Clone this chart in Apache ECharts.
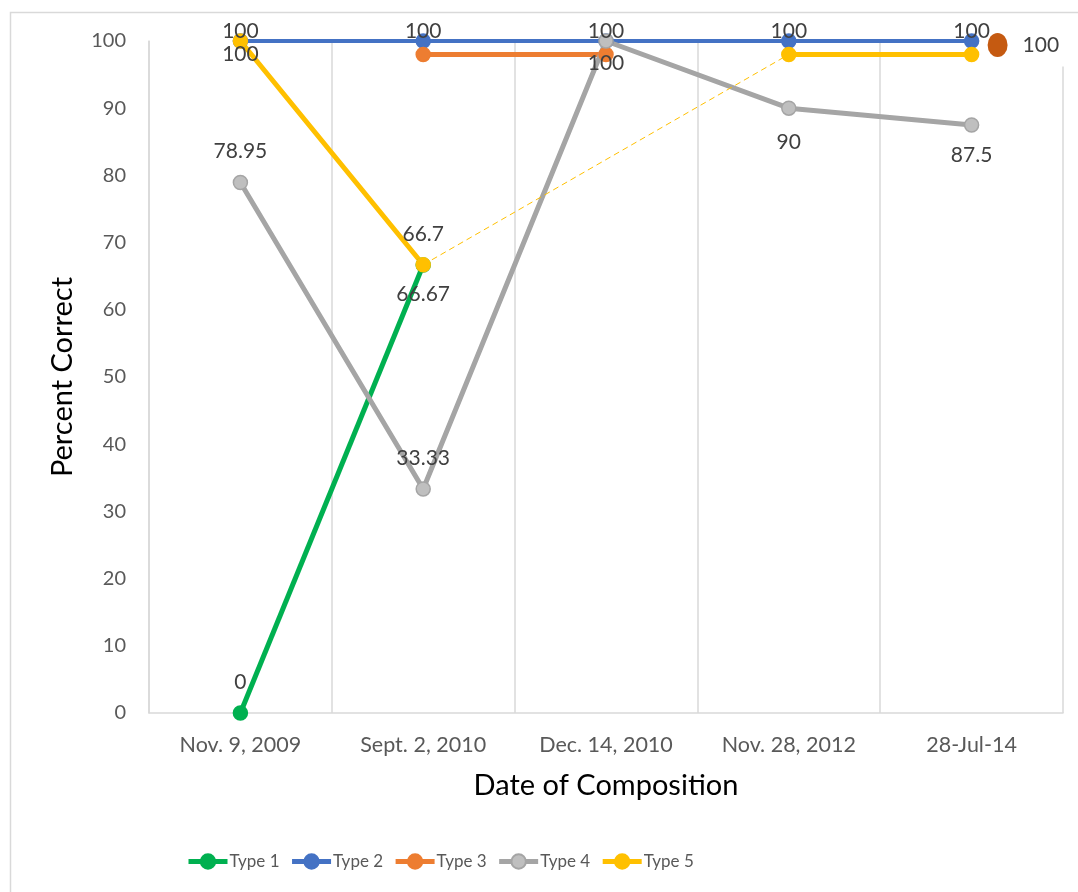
<!DOCTYPE html>
<html>
<head>
<meta charset="utf-8">
<script src="https://cdn.jsdelivr.net/npm/echarts@6/dist/echarts.min.js"></script>
<style>
  html, body { margin: 0; padding: 0; background: #fff; }
  #chart { width: 1078px; height: 892px; }
</style>
</head>
<body>
<div id="chart"></div>
<script>
// Categories and series values
const categories = ['Nov. 9, 2009', 'Sept. 2, 2010', 'Dec. 14, 2010', 'Nov. 28, 2012', '28-Jul-14'];
const type1 = [0, 66.67, null, null, null];
const type2 = [100, 100, 100, 100, 100];
const type3 = [null, 98, 98, null, null];
const type4 = [78.95, 33.33, 100, 90, 87.5];
const type5 = [100, 66.7, null, 98, 98];
const type3Extra = 100;           // lone point beside the last date
const yTicks = [0, 10, 20, 30, 40, 50, 60, 70, 80, 90, 100];

// Vertical label offsets (px, from the marker centre); null = no label
const labelDy = {
  t1: [-31, 29, null, null, null],
  t2: [-10, -10, -10, -10, -10],
  t3: [null, null, null, null, null],
  t4: [-31, -31, 22, 34, 30],
  t5: [13, -31, null, null, null]
};

const FONT = 'Lato';
const LABEL_COLOR = '#404040';

function buildData(values, dys) {
  return values.map((v, i) => ({
    value: v,
    label: {
      show: v != null && dys[i] != null,
      position: 'inside',
      offset: [0, dys[i] == null ? 0 : dys[i]]
    }
  }));
}

function lineSeries(name, values, dys, color, markerFill, width) {
  return {
    name: name,
    type: 'line',
    data: buildData(values, dys),
    connectNulls: false,
    symbol: 'circle',
    symbolSize: 14,
    showAllSymbol: true,
    lineStyle: { color: color, width: width },
    itemStyle: { color: markerFill, borderColor: color, borderWidth: 1.5 },
    label: {
      color: LABEL_COLOR,
      fontFamily: FONT,
      fontSize: 21,
      formatter: p => String(p.value)
    },
    emphasis: { disabled: true },
    animation: false
  };
}

const s1 = lineSeries('Type 1', type1, labelDy.t1, '#00B050', '#00B050', 5);
const s2 = lineSeries('Type 2', type2, labelDy.t2, '#4472C4', '#4472C4', 4);
const s3 = lineSeries('Type 3', type3, labelDy.t3, '#ED7D31', '#ED7D31', 5);
const s4 = lineSeries('Type 4', type4, labelDy.t4, '#A5A5A5', '#BFBFBF', 5);
const s5 = lineSeries('Type 5', type5, labelDy.t5, '#FFC000', '#FFC000', 5);

// Separate Type 3 point drawn as a dark orange ellipse with its value
s3.markPoint = {
  silent: true,
  animation: false,
  symbol: 'circle',
  symbolSize: [20, 24],
  symbolOffset: [26, 4],
  itemStyle: { color: '#C55A11' },
  label: {
    show: true,
    position: 'right',
    distance: 9,
    color: LABEL_COLOR,
    fontFamily: FONT,
    fontSize: 21,
    backgroundColor: '#fff',
    padding: [8, 14, 14, 6],
    formatter: String(type3Extra)
  },
  data: [{ coord: [categories[4], type3Extra], value: type3Extra }]
};

// Dashed bridge across the missing Type 5 value
s5.markLine = {
  silent: true,
  animation: false,
  symbol: 'none',
  label: { show: false },
  lineStyle: { color: '#FFC000', width: 1, type: [6, 4] },
  data: [[
    { coord: [categories[1], type5[1]] },
    { coord: [categories[3], type5[3]] }
  ]]
};

const chart = echarts.init(document.getElementById('chart'), null, { renderer: 'canvas' });

chart.setOption({
  backgroundColor: '#fff',
  animation: false,
  textStyle: { fontFamily: FONT },
  graphic: [{
    type: 'rect',
    silent: true,
    z: -10,
    shape: { x: 10.5, y: 12.5, width: 1200, height: 1000 },
    style: { fill: 'none', stroke: '#D9D9D9', lineWidth: 1.5 }
  }],
  grid: { left: 149, right: 15, top: 41, bottom: 179, containLabel: false },
  legend: {
    left: 181,
    top: 848,
    itemWidth: 39,
    itemHeight: 18,
    itemGap: 10,
    lineStyle: { width: 5 },
    textStyle: { color: '#595959', fontFamily: FONT, fontSize: 17, padding: [0, 0, 0, -3] },
    data: ['Type 1', 'Type 2', 'Type 3', 'Type 4', 'Type 5']
  },
  xAxis: {
    type: 'category',
    data: categories,
    boundaryGap: true,
    name: 'Date of Composition',
    nameLocation: 'middle',
    nameGap: 58,
    nameTextStyle: { color: '#000', fontFamily: FONT, fontSize: 29 },
    axisLine: { show: true, lineStyle: { color: '#D9D9D9', width: 1.5 } },
    axisTick: { show: false },
    axisLabel: { color: '#595959', fontFamily: FONT, fontSize: 21.5, margin: 21 },
    splitLine: { show: true, lineStyle: { color: '#D9D9D9', width: 1.5 } }
  },
  yAxis: {
    type: 'value',
    min: yTicks[0],
    max: yTicks[yTicks.length - 1],
    interval: yTicks[1] - yTicks[0],
    name: 'Percent Correct',
    nameLocation: 'middle',
    nameGap: 72,
    nameRotate: 90,
    nameTextStyle: { color: '#000', fontFamily: FONT, fontSize: 29 },
    axisLine: { show: true, lineStyle: { color: '#D9D9D9', width: 1.5 } },
    axisTick: { show: false },
    axisLabel: { color: '#595959', fontFamily: FONT, fontSize: 20, margin: 23 },
    splitLine: { show: false }
  },
  series: [s1, s2, s3, s4, s5]
});
</script>
</body>
</html>
